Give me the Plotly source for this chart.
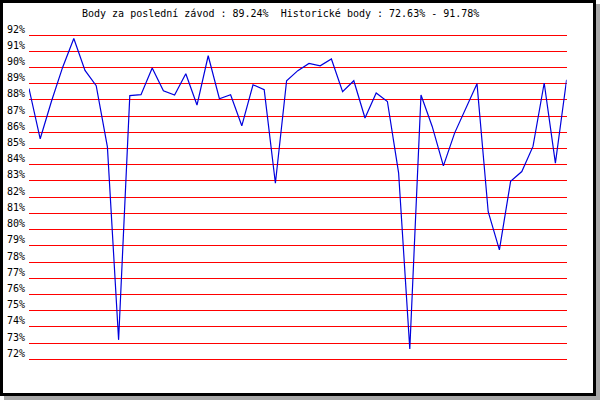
import plotly.graph_objects as go

# Race scores (%) in order
race_index = list(range(49))
scores = [88.7, 85.6, 87.9, 90.0, 91.78, 89.82, 88.87, 85.1, 73.2, 88.26,
          88.32, 89.96, 88.56, 88.3, 89.61, 87.68, 90.72, 88.07, 88.32, 86.4,
          88.93, 88.63, 82.86, 89.18, 89.8, 90.25, 90.1, 90.52, 88.5, 89.18,
          86.88, 88.42, 87.9, 83.5, 72.63, 88.3, 86.36, 83.93, 85.95, 87.49,
          89.0, 81.1, 78.75, 82.97, 83.58, 85.13, 89.04, 84.1, 89.24]

tick_values = list(range(72, 93))
tick_labels = [f"{v}%" for v in tick_values]

title_text = "Body za poslední závod : 89.24%  Historické body : 72.63% - 91.78%"

W, H = 600, 400
FONT = "DejaVu Sans Mono"

# pixel geometry of the plot area (92% line at y=35, 72% line at y=359.3)
PX_PER_UNIT = (359.3 - 35) / 20.0
PAD = 0.5  # range padding so the edge gridlines are drawn
top_px = 35 - PAD * PX_PER_UNIT
bot_px = 359.3 + PAD * PX_PER_UNIT

fig = go.Figure()
fig.add_trace(go.Scatter(
    x=race_index, y=scores, mode="lines",
    line=dict(color="#0000dd", width=1.2),
    hoverinfo="skip", showlegend=False,
))

shapes = [
    # gray drop shadow
    dict(type="rect", xref="paper", yref="paper",
         x0=4 / W, x1=1, y0=0, y1=1 - 4 / H,
         fillcolor="#a8a8a8", line=dict(width=0), layer="below"),
    # white frame with black border
    dict(type="rect", xref="paper", yref="paper",
         x0=1.5 / W, x1=594.5 / W, y0=1 - 394.5 / H, y1=1 - 1.5 / H,
         fillcolor="white", line=dict(color="black", width=3), layer="below"),
]

annotations = [
    dict(text=title_text, xref="paper", yref="paper",
         x=280 / W, y=1 - 13.5 / H, xanchor="center", yanchor="middle",
         showarrow=False, font=dict(family=FONT, size=10, color="black")),
]
for v, lab in zip(tick_values, tick_labels):
    annotations.append(dict(
        text=lab, xref="paper", yref="y", x=26.5 / W, y=v,
        xanchor="right", yanchor="middle", yshift=6, showarrow=False,
        font=dict(family=FONT, size=10, color="black")))

fig.update_layout(
    width=W, height=H,
    margin=dict(l=0, r=0, t=0, b=0),
    paper_bgcolor="white",
    plot_bgcolor="rgba(0,0,0,0)",
    shapes=shapes,
    annotations=annotations,
    hovermode=False,
    xaxis=dict(domain=[29 / W, 566.6 / W], range=[0, 48],
               showgrid=False, zeroline=False, showticklabels=False,
               showline=False, ticks=""),
    yaxis=dict(domain=[1 - bot_px / H, 1 - top_px / H],
               range=[72 - PAD, 92 + PAD],
               tickmode="array", tickvals=tick_values,
               showgrid=True, gridcolor="#ff0000",
               gridwidth=1, zeroline=False, showticklabels=False,
               showline=False, ticks=""),
)

fig.write_html(
    "out.html",
    config={"displayModeBar": False, "responsive": False},
    post_script="document.body.style.margin='0';document.body.style.padding='0';"
                "document.documentElement.style.overflow='hidden';",
)
